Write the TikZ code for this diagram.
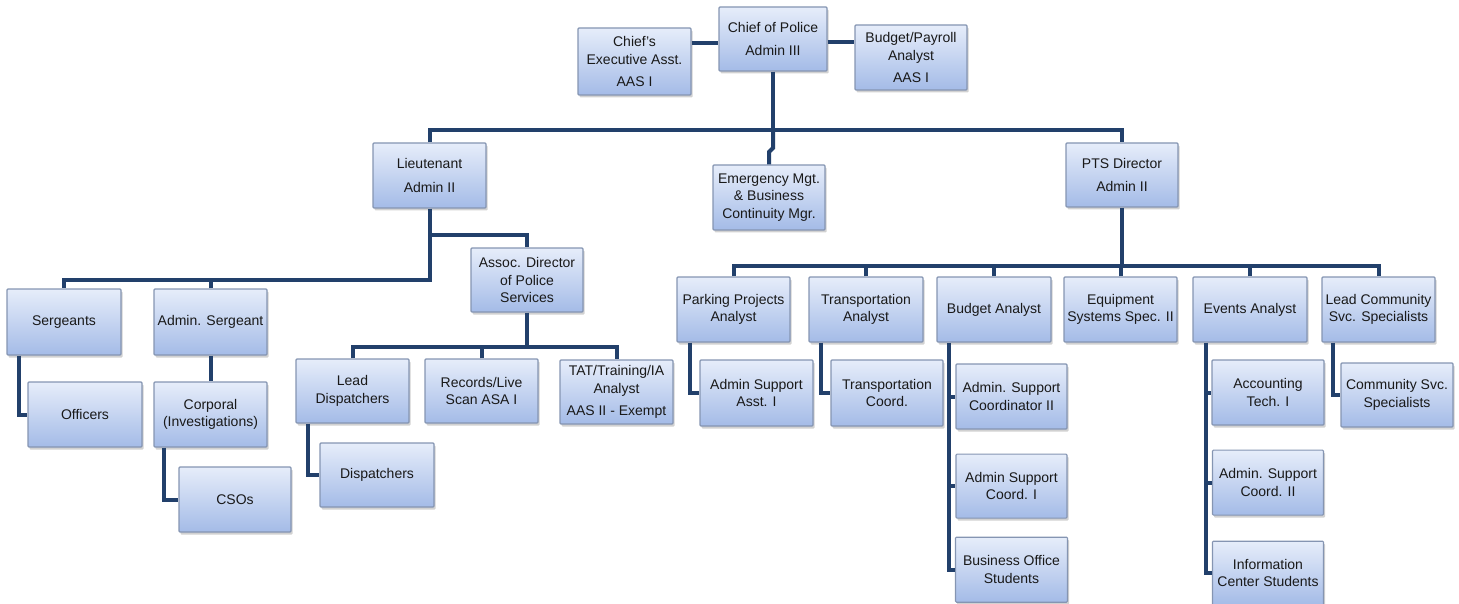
\documentclass[tikz,border=0pt]{standalone}
\usepackage{fontspec}
\setmainfont{Liberation Sans}
\usetikzlibrary{positioning, shadows}

\definecolor{boxtop}{HTML}{E6EDFA}
\definecolor{boxbottom}{HTML}{A4BBE7}
\definecolor{boxline}{HTML}{8595B2}
\definecolor{linkblue}{HTML}{22406B}

\begin{document}
\begin{tikzpicture}[x=1pt, y=-1pt,
    unitbox/.style={rectangle, draw=boxline, line width=1.1pt, top color=boxtop, bottom color=boxbottom, rounded corners=1pt, minimum width=113pt, minimum height=65pt, inner sep=1pt, align=center, text=black!90, font=\fontsize{14}{17.5}\selectfont, drop shadow={shadow xshift=1.5pt, shadow yshift=-2.5pt, opacity=0.3, fill=black!60}},
    link/.style={draw=linkblue, line width=4pt}]

    \useasboundingbox (0,0) rectangle (1459,604);

    % top level
    \node [unitbox, minimum width=108pt, minimum height=64pt] (chief) at (773,39) {Chief of Police\\[6pt]Admin III};
    \node [unitbox, minimum height=67pt] (exec) at (634.5,61.5) {Chief’s\\Executive Asst.\\[5pt]AAS I};
    \node [unitbox, minimum width=112pt] (payroll) at (911,57.5) {Budget/Payroll\\Analyst\\[5pt]AAS I};

    \node [unitbox] (lt) at (429.5,175.5) {Lieutenant\\[6pt]Admin II};
    \node [unitbox, minimum width=112pt] (emerg) at (769,197.5) {Emergency Mgt.\\\& Business\\Continuity Mgr.};
    \node [unitbox, minimum width=112pt, minimum height=64pt] (pts) at (1122,175) {PTS Director\\[6pt]Admin II};

    % lieutenant branch
    \node [unitbox, minimum width=112pt, minimum height=64pt] (assoc) at (527,280) {Assoc. Director\\of Police\\Services};
    \node [unitbox, minimum width=114pt, minimum height=66pt] (sgts) at (64,322) {Sergeants};
    \node [unitbox, minimum height=66pt] (adminsgt) at (210.5,322) {Admin. Sergeant};
    \node [unitbox, minimum width=114pt] (officers) at (85,414.5) {Officers};
    \node [unitbox] (corporal) at (210.5,414.5) {Corporal\\(Investigations)};
    \node [unitbox, minimum width=112pt] (csos) at (235,499.5) {CSOs};
    \node [unitbox, minimum height=64pt] (leaddisp) at (352.5,391) {Lead\\Dispatchers};
    \node [unitbox, minimum height=64pt] (records) at (481.5,391) {Records/Live\\Scan ASA I};
    \node [unitbox, minimum height=64pt] (tat) at (616.5,392) {TAT/Training/IA\\Analyst\\[5pt]AAS II - Exempt};
    \node [unitbox, minimum width=114pt, minimum height=64pt] (disp) at (377,475) {Dispatchers};

    % pts branch
    \node [unitbox] (parking) at (733.5,309.5) {Parking Projects\\Analyst};
    \node [unitbox, minimum width=114pt] (transp) at (866,309.5) {Transportation\\Analyst};
    \node [unitbox, minimum width=114pt] (budget) at (994,309.5) {Budget Analyst};
    \node [unitbox] (equip) at (1120.5,309.5) {Equipment\\Systems Spec. II};
    \node [unitbox, minimum width=114pt] (events) at (1250,309.5) {Events Analyst};
    \node [unitbox] (leadcomm) at (1378.5,309.5) {Lead Community\\Svc. Specialists};

    \node [unitbox, minimum height=66pt] (supasst) at (756.5,393) {Admin Support\\Asst. I};
    \node [unitbox, minimum width=112pt, minimum height=66pt] (transcoord) at (887,393) {Transportation\\Coord.};
    \node [unitbox, minimum width=111pt] (supcoord2) at (1011.5,396.5) {Admin. Support\\Coordinator II};
    \node [unitbox, minimum width=111pt, minimum height=64pt, below=24pt of supcoord2] (supcoord1) {Admin Support\\Coord. I};
    \node [unitbox, minimum width=112pt, below=18pt of supcoord1] (bizoffice) {Business Office\\Students};
    \node [unitbox, minimum width=112pt] (accttech) at (1268,392.5) {Accounting\\Tech. I};
    \node [unitbox, minimum width=111pt, below=24pt of accttech] (suppcoord2b) {Admin. Support\\Coord. II};
    \node [unitbox, minimum width=111pt, minimum height=64pt, below=25pt of suppcoord2b] (infoctr) {Information\\Center Students};
    \node [unitbox, minimum width=112pt, minimum height=64pt] (commsvc) at (1397,395) {Community Svc.\\Specialists};

    % bus points
    \coordinate (topbus) at (773,130);
    \coordinate (ltbus) at (429.5,280);
    \coordinate (assocbus) at (527,347);
    \coordinate (ptsbus) at (1122,266);

    % connectors
    \draw [link] (exec.east |- 0,43) -- (chief.west |- 0,43);
    \draw [link] (chief.east |- 0,42) -- (payroll.west |- 0,42);
    \draw [link] (chief.south) -- (topbus);
    \draw [link] (lt.north) |- (topbus) -| (pts.north);
    \draw [link] (topbus) -- ++(0,18) -- ++(-4,4) -- (emerg.north);

    \draw [link] (lt.south) -- (ltbus) -| (sgts.north);
    \draw [link] (adminsgt.north) -- (adminsgt.north |- ltbus);
    \draw [link] (lt.south |- 0,235) -| (assoc.north);
    \draw [link] (sgts.south -| 19,0) |- (officers.west);
    \draw [link] (adminsgt.south) -- (corporal.north);
    \draw [link] (corporal.south -| 164,0) |- (csos.west);

    \draw [link] (assoc.south) -- (assocbus);
    \draw [link] (leaddisp.north) |- (assocbus) -| (tat.north);
    \draw [link] (records.north) -- (records.north |- assocbus);
    \draw [link] (leaddisp.south -| 308,0) |- (disp.west);

    \draw [link] (pts.south) -- (ptsbus);
    \draw [link] (parking.north) |- (ptsbus) -| (leadcomm.north);
    \foreach \n in {transp, budget, equip, events}
        \draw [link] (\n.north) -- (\n.north |- ptsbus);
    \draw [link] (parking.south -| 690,0) |- (supasst.west);
    \draw [link] (transp.south -| 821,0) |- (transcoord.west);
    \draw [link] (budget.south -| 949,0) |- (bizoffice.west);
    \foreach \n in {supcoord2, supcoord1}
        \draw [link] (\n.west -| 949,0) -- (\n.west);
    \draw [link] (events.south -| 1206,0) |- (infoctr.west);
    \foreach \n in {accttech, suppcoord2b}
        \draw [link] (\n.west -| 1206,0) -- (\n.west);
    \draw [link] (leadcomm.south -| 1333,0) |- (commsvc.west);

\end{tikzpicture}
\end{document}
